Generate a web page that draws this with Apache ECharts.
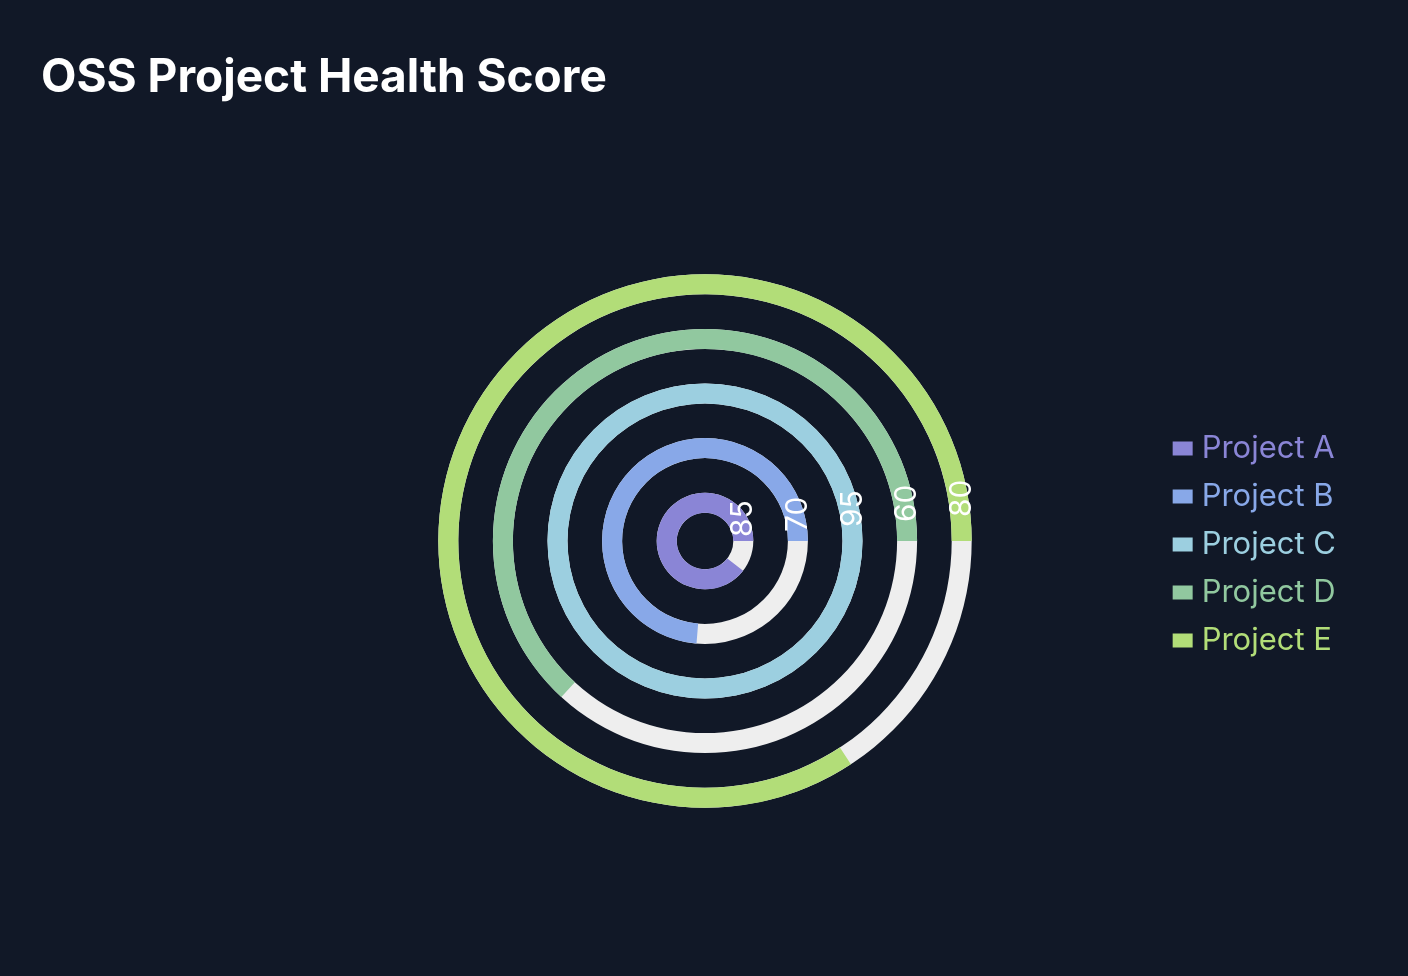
<!DOCTYPE html>
<html>
<head>
<meta charset="utf-8">
<script src="https://cdn.jsdelivr.net/npm/echarts@6/dist/echarts.min.js"></script>
<style>
html,body{margin:0;padding:0;background:#111827;}
#main{width:1408px;height:976px;}
</style>
</head>
<body>
<div id="main"></div>
<script>
const categories = ['Project A', 'Project B', 'Project C', 'Project D', 'Project E'];
const scores = [85, 70, 95, 60, 80];
const colors = ['#8a85d6', '#88a8e8', '#9ccfe0', '#91c89f', '#b2dd78'];
const titleText = 'OSS Project Health Score';

const chart = echarts.init(document.getElementById('main'));
const series = categories.map((name, i) => ({
  name: name,
  type: 'bar',
  coordinateSystem: 'polar',
  stack: 'all',
  data: categories.map((c, j) => (j === i ? scores[i] : '-')),
  barWidth: 20,
  showBackground: i === 0,
  backgroundStyle: { color: '#eeeeee' },
  itemStyle: { color: colors[i] },
  label: {
    show: true,
    position: 'insideStart',
    rotate: Math.PI / 2,
    color: '#ffffff',
    fontSize: 30,
    fontFamily: 'Inter',
    distance: -(4 + i * 5)
  }
}));

chart.setOption({
  backgroundColor: '#111827',
  animation: false,
  title: {
    text: titleText,
    left: 36,
    top: 50,
    textStyle: { color: '#ffffff', fontSize: 46, fontWeight: 'bold', fontFamily: 'Inter' }
  },
  legend: {
    orient: 'vertical',
    right: 67,
    top: 428,
    itemWidth: 20,
    itemHeight: 14,
    itemGap: 17,
    icon: 'rect',
    data: categories.map((c, i) => ({ name: c, textStyle: { color: colors[i] } })),
    textStyle: { fontSize: 31, fontFamily: 'Inter', padding: [0, 0, 0, 4] }
  },
  polar: { center: [705, 541], radius: [11, 284] },
  angleAxis: { type: 'value', min: 0, max: 'dataMax', startAngle: 0, clockwise: false, show: false },
  radiusAxis: { type: 'category', data: categories, show: false },
  series: series
});
</script>
</body>
</html>
